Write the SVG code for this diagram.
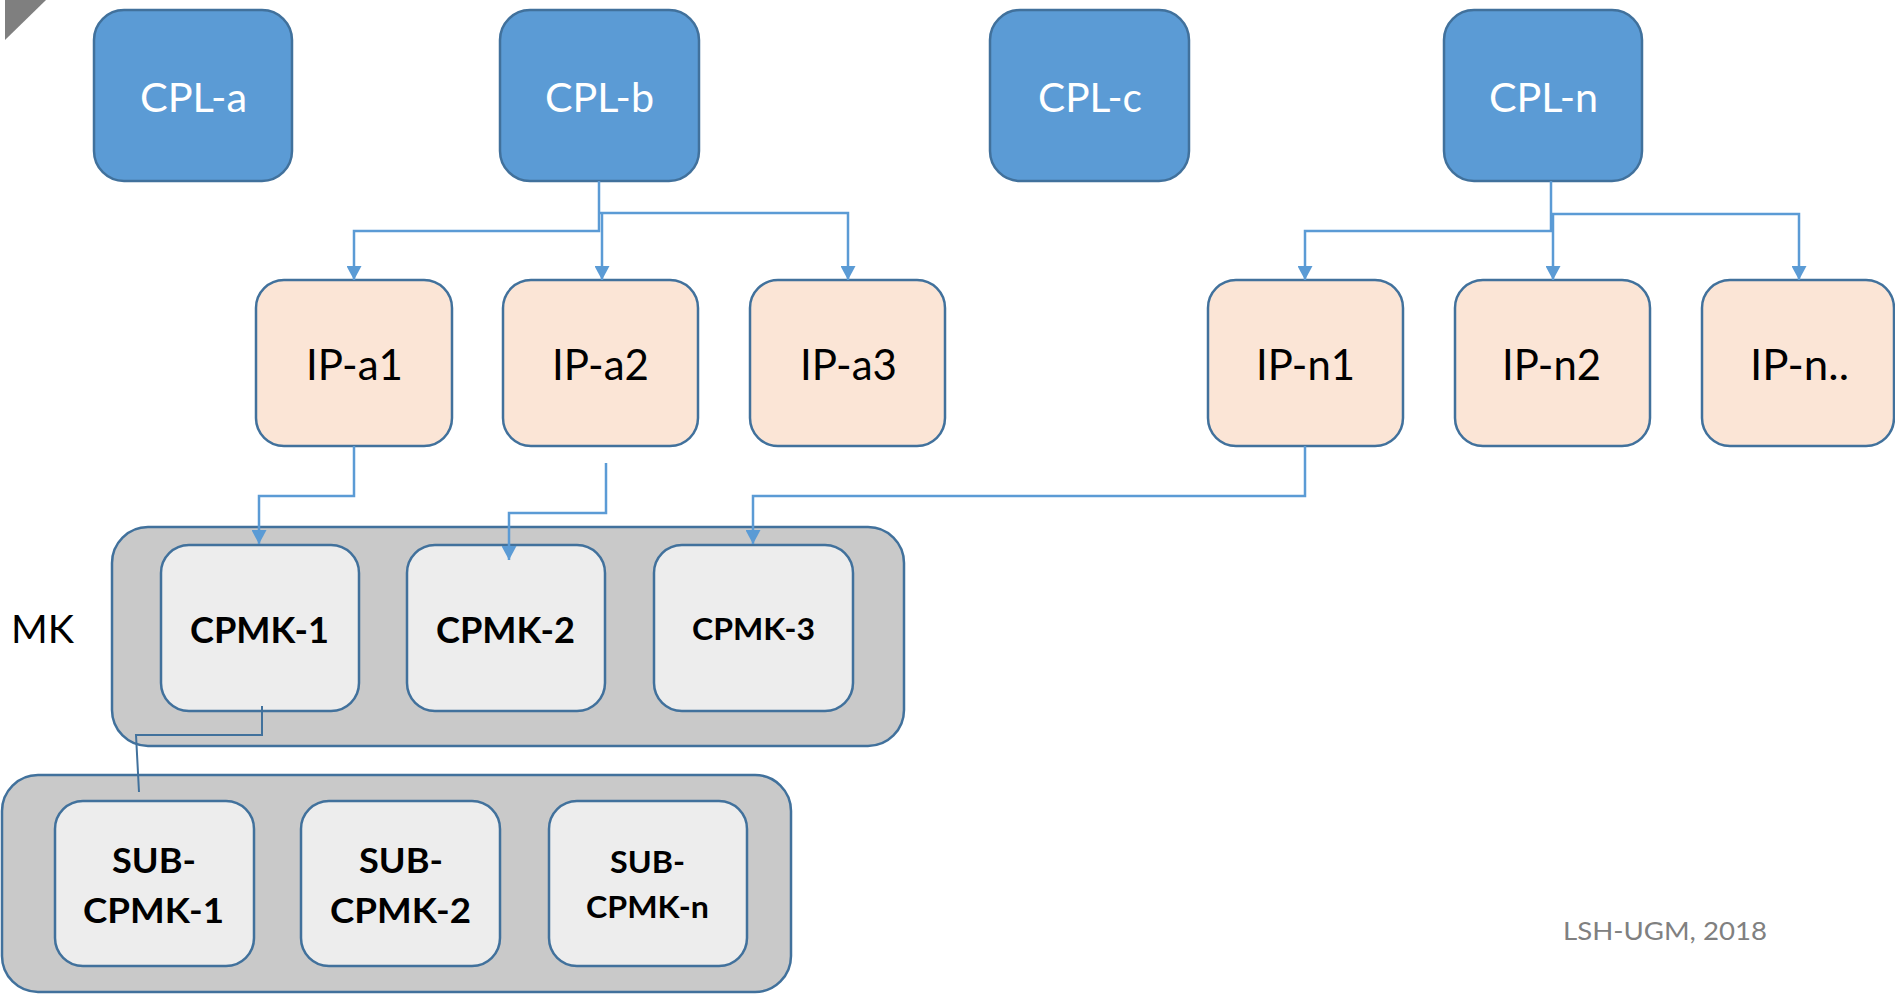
<svg xmlns="http://www.w3.org/2000/svg" width="1895" height="995" viewBox="0 0 1895 995">
<style>
.cpl{fill:#5B9BD5;stroke:#41719C;stroke-width:2.5}
.ip{fill:#FBE5D6;stroke:#41719C;stroke-width:2.5}
.cont{fill:#C9C9C9;stroke:#41719C;stroke-width:2.5}
.cp{fill:#EDEDED;stroke:#41719C;stroke-width:2.5}
.tw{font-family:Lato,"Open Sans",sans-serif;fill:#FFFFFF;font-size:40px}
.tb{font-family:Lato,"Open Sans",sans-serif;fill:#000000;font-size:42px}
.tbold{font-family:Lato,"Open Sans",sans-serif;fill:#000000;font-weight:bold}
.conn{fill:none;stroke:#5B9BD5;stroke-width:2.5}
.conn2{fill:none;stroke:#41719C;stroke-width:2}
</style>
<defs>
<marker id="arr" markerUnits="userSpaceOnUse" markerWidth="15" markerHeight="15" refX="14" refY="7.5" orient="auto">
<path d="M0,0 L14,7.5 L0,15 z" fill="#5B9BD5"/>
</marker>
</defs>
<rect width="1895" height="995" fill="#FFFFFF"/>
<polygon points="5,0 46,0 5,40" fill="#7F7F7F"/>

<g id="cpl-a"><rect class="cpl" x="94" y="10" width="198" height="171" rx="30"/><text class="tw" x="140" y="112" textLength="107" lengthAdjust="spacingAndGlyphs">CPL-a</text></g>
<g id="cpl-b"><rect class="cpl" x="500" y="10" width="199" height="171" rx="30"/><text class="tw" x="545" y="112" textLength="109" lengthAdjust="spacingAndGlyphs">CPL-b</text></g>
<g id="cpl-c"><rect class="cpl" x="990" y="10" width="199" height="171" rx="30"/><text class="tw" x="1038" y="112" textLength="104" lengthAdjust="spacingAndGlyphs">CPL-c</text></g>
<g id="cpl-n"><rect class="cpl" x="1444" y="10" width="198" height="171" rx="30"/><text class="tw" x="1489" y="112" textLength="109" lengthAdjust="spacingAndGlyphs">CPL-n</text></g>

<g id="ip-a1"><rect class="ip" x="256" y="280" width="196" height="166" rx="28"/><text class="tb" x="306" y="380" textLength="97" lengthAdjust="spacingAndGlyphs">IP-a1</text></g>
<g id="ip-a2"><rect class="ip" x="503" y="280" width="195" height="166" rx="28"/><text class="tb" x="552" y="380" textLength="97" lengthAdjust="spacingAndGlyphs">IP-a2</text></g>
<g id="ip-a3"><rect class="ip" x="750" y="280" width="195" height="166" rx="28"/><text class="tb" x="800" y="380" textLength="97" lengthAdjust="spacingAndGlyphs">IP-a3</text></g>
<g id="ip-n1"><rect class="ip" x="1208" y="280" width="195" height="166" rx="28"/><text class="tb" x="1256" y="380" textLength="99" lengthAdjust="spacingAndGlyphs">IP-n1</text></g>
<g id="ip-n2"><rect class="ip" x="1455" y="280" width="195" height="166" rx="28"/><text class="tb" x="1502" y="380" textLength="99" lengthAdjust="spacingAndGlyphs">IP-n2</text></g>
<g id="ip-nn"><rect class="ip" x="1702" y="280" width="192" height="166" rx="28"/><text class="tb" x="1750" y="380" textLength="99" lengthAdjust="spacingAndGlyphs">IP-n..</text></g>

<g id="mk-label"><text class="tb" x="11" y="643" font-size="39" textLength="63" lengthAdjust="spacingAndGlyphs" style="font-size:39px">MK</text></g>

<g id="mk"><rect class="cont" x="112" y="527" width="792" height="219" rx="36"/></g>
<g id="cpmk-1"><rect class="cp" x="161" y="545" width="198" height="166" rx="28"/><text class="tbold" x="190" y="643" style="font-size:37px" textLength="139" lengthAdjust="spacingAndGlyphs">CPMK-1</text></g>
<g id="cpmk-2"><rect class="cp" x="407" y="545" width="198" height="166" rx="28"/><text class="tbold" x="436" y="643" style="font-size:37px" textLength="139" lengthAdjust="spacingAndGlyphs">CPMK-2</text></g>
<g id="cpmk-3"><rect class="cp" x="654" y="545" width="199" height="166" rx="28"/><text class="tbold" x="692" y="640" style="font-size:31px" textLength="123" lengthAdjust="spacingAndGlyphs">CPMK-3</text></g>

<g id="sub"><rect class="cont" x="2" y="775" width="789" height="217" rx="36"/></g>
<g id="sub-cpmk-1"><rect class="cp" x="55" y="801" width="199" height="165" rx="28"/><text class="tbold" x="112" y="873" style="font-size:35px" textLength="84" lengthAdjust="spacingAndGlyphs">SUB-</text><text class="tbold" x="83" y="923" style="font-size:35px" textLength="141" lengthAdjust="spacingAndGlyphs">CPMK-1</text></g>
<g id="sub-cpmk-2"><rect class="cp" x="301" y="801" width="199" height="165" rx="28"/><text class="tbold" x="359" y="873" style="font-size:35px" textLength="84" lengthAdjust="spacingAndGlyphs">SUB-</text><text class="tbold" x="330" y="923" style="font-size:35px" textLength="141" lengthAdjust="spacingAndGlyphs">CPMK-2</text></g>
<g id="sub-cpmk-n"><rect class="cp" x="549" y="801" width="198" height="165" rx="28"/><text class="tbold" x="610" y="873" style="font-size:30px" textLength="75" lengthAdjust="spacingAndGlyphs">SUB-</text><text class="tbold" x="586" y="918" style="font-size:30px" textLength="123" lengthAdjust="spacingAndGlyphs">CPMK-n</text></g>

<g id="connectors">
<path class="conn" d="M599,181 V231 H354 V280" marker-end="url(#arr)"/>
<path class="conn" d="M602,213 V280" marker-end="url(#arr)"/>
<path class="conn" d="M599,213 H848 V280" marker-end="url(#arr)"/>
<path class="conn" d="M1551,181 V231 H1305 V280" marker-end="url(#arr)"/>
<path class="conn" d="M1553,214 V280" marker-end="url(#arr)"/>
<path class="conn" d="M1551,214 H1799 V280" marker-end="url(#arr)"/>
<path class="conn" d="M354,446 V496 H259 V544" marker-end="url(#arr)"/>
<path class="conn" d="M606,463 V513 H509 V560" marker-end="url(#arr)"/>
<path class="conn" d="M1305,446 V496 H753 V544" marker-end="url(#arr)"/>
<path class="conn2" d="M262,706 V735 H136 L139,792"/>
</g>

<g id="footer"><text x="1563" y="940" style="font-family:Lato,'Open Sans',sans-serif;font-size:25px;fill:#808080" textLength="204" lengthAdjust="spacingAndGlyphs">LSH-UGM, 2018</text></g>
</svg>
